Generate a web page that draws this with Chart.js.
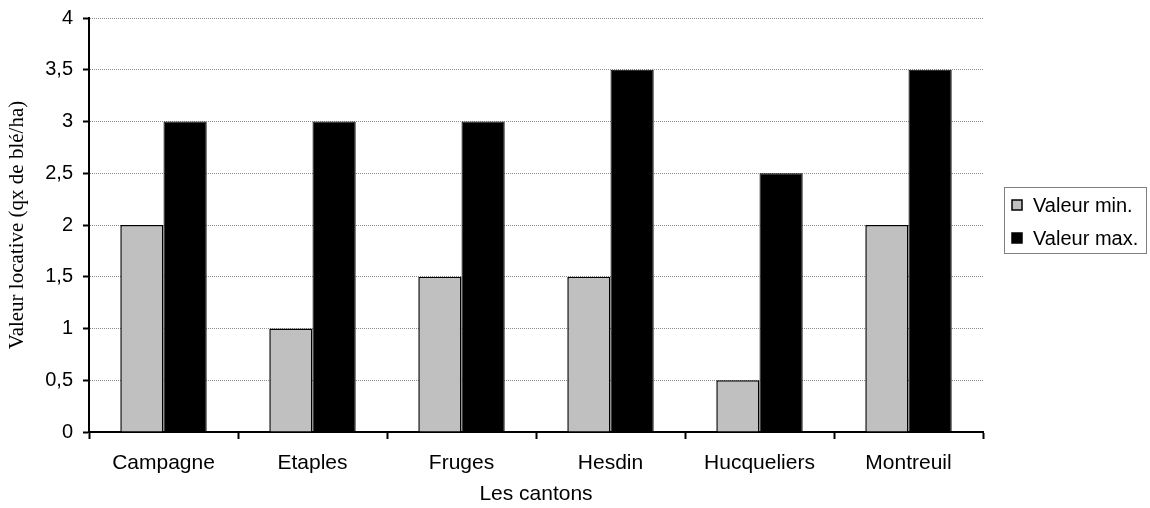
<!DOCTYPE html>
<html>
<head>
<meta charset="utf-8">
<script src="https://cdn.jsdelivr.net/npm/chart.js@4"></script>
<style>
  html, body { margin: 0; padding: 0; background: #fff; }
  #wrap { width: 1150px; height: 508px; }
</style>
</head>
<body>
<div id="wrap"><canvas id="chart" width="1150" height="508"></canvas></div>
<script>
const cantons = ["Campagne", "Etaples", "Fruges", "Hesdin", "Hucqueliers", "Montreuil"];
const valeurMin = [2, 1, 1.5, 1.5, 0.5, 2];
const valeurMax = [3, 3, 3, 3.5, 2.5, 3.5];

const sansFont = "Liberation Sans, Arial, sans-serif";

// spreadsheet-style legend: framed box to the right of the plot
const boxLegend = {
  id: "boxLegend",
  afterDraw(chart) {
    const ctx = chart.ctx;
    const area = chart.chartArea;
    const left = area.right + 21;
    const top = Math.round((area.top + area.bottom) / 2) - 38;
    const width = 142, height = 66, rowGap = 33;
    ctx.save();
    ctx.strokeStyle = "#808080";
    ctx.lineWidth = 1;
    ctx.strokeRect(left + 0.5, top + 0.5, width, height);
    ctx.font = "20px " + sansFont;
    ctx.textBaseline = "middle";
    chart.data.datasets.forEach((ds, i) => {
      const cy = top + 18 + i * rowGap;
      ctx.fillStyle = ds.backgroundColor;
      ctx.fillRect(left + 8, cy - 5, 10, 10);
      ctx.strokeStyle = "#000";
      ctx.lineWidth = 1.5;
      ctx.strokeRect(left + 8, cy - 5, 10, 10);
      ctx.fillStyle = "#000";
      ctx.fillText(ds.label, left + 29, cy + 1);
    });
    ctx.restore();
  }
};

new Chart(document.getElementById("chart"), {
  type: "bar",
  data: {
    labels: cantons,
    datasets: [
      { label: "Valeur min.", data: valeurMin, backgroundColor: "#c0c0c0", borderColor: "#000", borderWidth: 1.5 },
      { label: "Valeur max.", data: valeurMax, backgroundColor: "#000", borderColor: "#000", borderWidth: 1 }
    ]
  },
  options: {
    responsive: false,
    animation: false,
    devicePixelRatio: 1,
    layout: { padding: { left: 5, top: 10, right: 167, bottom: 3 } },
    datasets: { bar: { categoryPercentage: 0.58, barPercentage: 1 } },
    scales: {
      x: {
        grid: { display: true, drawOnChartArea: false, tickLength: 7, tickColor: "#000", tickWidth: 2 },
        border: { display: true, color: "#000", width: 2 },
        ticks: { color: "#000", padding: 14, font: { family: sansFont, size: 21, lineHeight: 1 } },
        title: { display: true, text: "Les cantons", color: "#000", padding: { top: -4, bottom: 0 }, font: { family: sansFont, size: 21, lineHeight: 1 } }
      },
      y: {
        min: 0,
        max: 4,
        ticks: {
          stepSize: 0.5,
          color: "#000",
          padding: 10,
          font: { family: sansFont, size: 20, lineHeight: 0.8 },
          callback: v => String(v).replace(".", ",")
        },
        grid: { color: "#8c8c8c", lineWidth: 1, tickLength: 6, tickColor: "#000", tickWidth: 2, tickBorderDash: [] },
        border: { display: true, color: "#000", width: 2, dash: [1, 1] },
        title: {
          display: true,
          text: "Valeur locative (qx de blé/ha)",
          color: "#000",
          padding: { top: 0, bottom: 5 },
          font: { family: "Liberation Serif, Times New Roman, serif", size: 21 }
        }
      }
    },
    plugins: {
      legend: { display: false },
      tooltip: { enabled: false }
    }
  },
  plugins: [boxLegend]
});
</script>
</body>
</html>
